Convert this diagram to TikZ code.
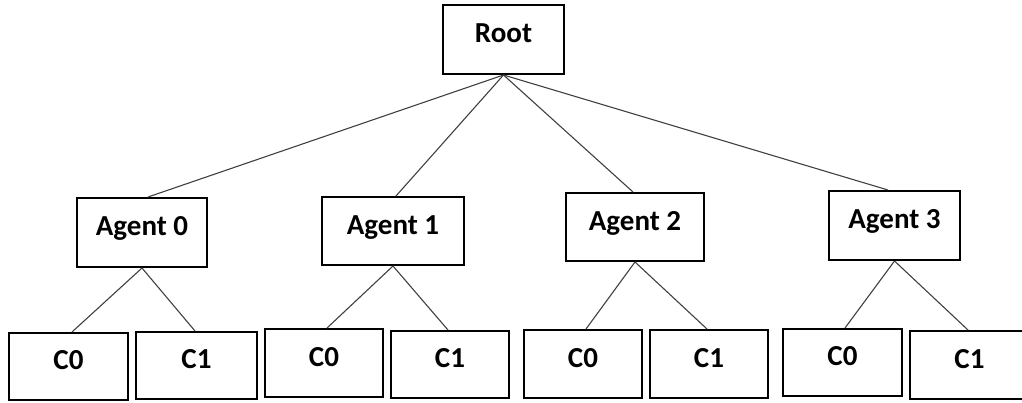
\documentclass[tikz,border=0pt]{standalone}
\usepackage{fontspec}
\setmainfont{Carlito}
\begin{document}
\begin{tikzpicture}[x=1pt,y=-1pt,
  box/.style={draw=black,line width=2pt,fill=white,rectangle,inner sep=1pt,
    font=\fontsize{29}{32}\selectfont\bfseries,text height=18.7pt,text depth=12pt},
  link/.style={draw=black!75,line width=1.1pt}]
\useasboundingbox (0,0) rectangle (1022,402);
% root
\node[box,minimum width=121pt,minimum height=69pt] (root) at (503.5,39.5) {Root};
% agents
\node[box,minimum width=130pt,minimum height=69pt] (a0) at (142,232.5) {Agent 0};
\node[box,minimum width=142pt,minimum height=68pt] (a1) at (393,231) {Agent 1};
\node[box,minimum width=138pt,minimum height=68pt] (a2) at (635,227) {Agent 2};
\node[box,minimum width=131pt,minimum height=69pt] (a3) at (894.5,225.5) {Agent 3};
% children
\node[box,minimum width=119pt,minimum height=67pt] (a0c0) at (68.5,366.5) {C0};
\node[box,minimum width=121pt,minimum height=67pt] (a0c1) at (196.5,365.5) {C1};
\node[box,minimum width=118pt,minimum height=68pt] (a1c0) at (324,363) {C0};
\node[box,minimum width=118pt,minimum height=67pt] (a1c1) at (450,364.5) {C1};
\node[box,minimum width=118pt,minimum height=68pt] (a2c0) at (583,364) {C0};
\node[box,minimum width=118pt,minimum height=68pt] (a2c1) at (709,364) {C1};
\node[box,minimum width=119pt,minimum height=67pt] (a3c0) at (842.5,362.5) {C0};
\node[box,minimum width=119pt,minimum height=68pt] (a3c1) at (969.5,365) {C1};
% connectors
\draw[link] (root.south) -- ([xshift=6pt]a0.north);
\draw[link] (root.south) -- ([xshift=3pt]a1.north);
\draw[link] (root.south) -- ([xshift=-2pt]a2.north);
\draw[link] (root.south) -- ([xshift=-6.5pt]a3.north);
\draw[link] (a0.south) -- ([xshift=3.5pt]a0c0.north);
\draw[link] (a0.south) -- ([xshift=-1.5pt]a0c1.north);
\draw[link] (a1.south) -- ([xshift=3pt]a1c0.north);
\draw[link] (a1.south) -- ([xshift=-2pt]a1c1.north);
\draw[link] (a2.south) -- ([xshift=3pt]a2c0.north);
\draw[link] (a2.south) -- ([xshift=-2pt]a2c1.north);
\draw[link] (a3.south) -- ([xshift=2.5pt]a3c0.north);
\draw[link] (a3.south) -- ([xshift=-1.5pt]a3c1.north);
\end{tikzpicture}
\end{document}
